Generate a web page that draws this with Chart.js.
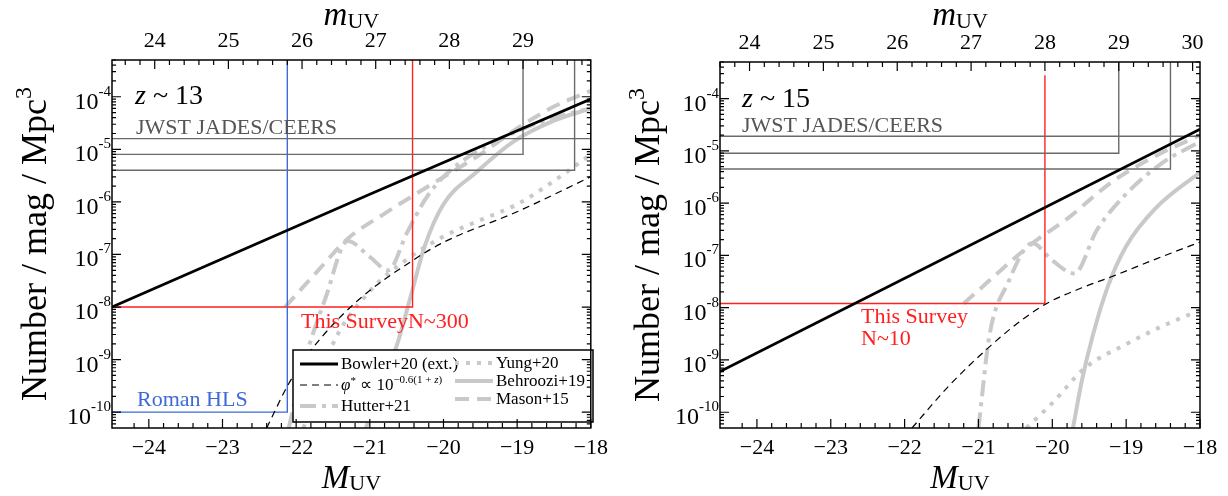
<!DOCTYPE html>
<html lang="en">
<head>
<meta charset="UTF-8">
<title>UV luminosity function at z~13 and z~15</title>
<script src="https://cdn.jsdelivr.net/npm/chart.js"></script>
<style>
  body { margin: 0; background: #fff; width: 1228px; height: 496px; overflow: hidden; }
  .panel { position: absolute; top: 0; }
  #p13 { left: 0; }
  #p15 { left: 615px; }
</style>
</head>
<body>
<div class="panel" id="p13"><canvas id="c13" width="615" height="496"></canvas></div>
<div class="panel" id="p15"><canvas id="c15" width="613" height="496"></canvas></div>
<script>
// ---- axes / ticks ----
const M_MIN = -24.5, M_MAX = -18;
const PHI_MIN = 5e-11, PHI_MAX = 5e-4;
const M_TICKS = [-24, -23, -22, -21, -20, -19, -18];
const PHI_TICK_EXP = [-10, -9, -8, -7, -6, -5, -4];
const MAG_TICKS_13 = [24, 25, 26, 27, 28, 29];
const MAG_TICKS_15 = [24, 25, 26, 27, 28, 29, 30];
const MAG_OFFSET_13 = 47.92;   // m_UV - M_UV
const MAG_OFFSET_15 = 48.1;

// ---- z ~ 13 ----
const bowler13_M   = [-24.5, -21.0, -18.0];
const bowler13_phi = [1e-8, 1.4e-6, 9e-5];
const phiStar13_M   = [-22.4, -22.1, -21.8, -21.2, -20.4, -20.0, -19.0, -18.0];
const phiStar13_phi = [5e-11, 3.5e-10, 1.5e-9, 1.2e-8, 8e-8, 1.7e-7, 6.5e-7, 3e-6];
const hutter13_M   = [-22.1, -21.9, -21.6, -21.3, -21.0, -20.75, -20.5, -20.25, -20.0, -19.5, -19.0, -18.5, -18.0];
const hutter13_phi = [5e-11, 8e-10, 1.5e-8, 1.8e-7, 9e-8, 5e-8, 2.5e-7, 1.1e-6, 3e-6, 1e-5, 2.2e-5, 4e-5, 6e-5];
const yung13_M   = [-21.9, -21.5, -21.0, -20.5, -20.0, -19.5, -19.0, -18.5, -18.0];
const yung13_phi = [5e-11, 2e-9, 2e-8, 8e-8, 2.2e-7, 4.5e-7, 9e-7, 2.5e-6, 8e-6];
const behroozi13_M   = [-21.05, -20.85, -20.65, -20.45, -20.25, -20.0, -19.55, -19.05, -18.5, -18.0];
const behroozi13_phi = [5e-11, 4e-10, 1.6e-9, 1.5e-8, 1.5e-7, 9e-7, 3.7e-6, 1.4e-5, 3.5e-5, 6e-5];
const mason13_M   = [-22.15, -21.7, -21.3, -20.8, -20.2, -19.5, -19.0, -18.5, -18.0];
const mason13_phi = [1e-8, 5e-8, 2e-7, 6e-7, 2e-6, 8e-6, 2.5e-5, 6.5e-5, 1.3e-4];
// survey limits z~13
const jwstA13_M = [-24.5, -18.0],           jwstA13_phi = [1.6e-5, 1.6e-5];
const jwstB13_M = [-24.5, -18.92, -18.92],  jwstB13_phi = [8e-6, 8e-6, 5e-4];
const jwstC13_M = [-24.5, -18.22, -18.22],  jwstC13_phi = [4e-6, 4e-6, 5e-4];
const survey13_M = [-24.5, -20.42, -20.42], survey13_phi = [1e-8, 1e-8, 5e-4];
const roman13_M = [-24.5, -22.12, -22.12],  roman13_phi = [1e-10, 1e-10, 5e-4];

// ---- z ~ 15 ----
const bowler15_M   = [-24.5, -18.0];
const bowler15_phi = [6e-10, 2.6e-5];
const phiStar15_M   = [-21.9, -21.4, -20.83, -20.4, -20.05, -19.6, -19.2, -18.6, -18.0];
const phiStar15_phi = [5e-11, 3.2e-10, 1.9e-9, 6e-9, 1.26e-8, 2.4e-8, 3.9e-8, 8.5e-8, 1.8e-7];
const hutter15_M   = [-21.0, -20.85, -20.6, -20.27, -20.0, -19.7, -19.4, -19.0, -18.5, -18.0];
const hutter15_phi = [5e-11, 3e-9, 3e-8, 1.7e-7, 8e-8, 4.5e-8, 3e-7, 1.5e-6, 6e-6, 1.5e-5];
const yung15_M   = [-20.35, -20.0, -19.56, -19.0, -18.5, -18.0];
const yung15_phi = [5e-11, 1.5e-10, 7e-10, 2e-9, 4.5e-9, 9e-9];
const behroozi15_M   = [-19.72, -19.6, -19.45, -19.25, -19.0, -18.6, -18.0];
const behroozi15_phi = [5e-11, 4e-10, 3e-9, 2.5e-8, 1.5e-7, 8e-7, 3.9e-6];
const mason15_M   = [-21.2, -20.27, -19.8, -19.2, -18.6, -18.0];
const mason15_phi = [1.2e-8, 1.7e-7, 5e-7, 2.5e-6, 8e-6, 2e-5];
const jwstA15_M = [-24.5, -18.0],           jwstA15_phi = [1.9e-5, 1.9e-5];
const jwstB15_M = [-24.5, -19.1, -19.1],    jwstB15_phi = [9e-6, 9e-6, 5e-4];
const jwstC15_M = [-24.5, -18.4, -18.4],    jwstC15_phi = [4.5e-6, 4.5e-6, 5e-4];
const survey15_M = [-24.5, -20.1, -20.1],   survey15_phi = [1.2e-8, 1.2e-8, 2.8e-4];

const FONT = "'Liberation Serif', 'Times New Roman', serif";
const GRAY = '#c9c9c9';
const RED = '#ff2020';
const BLUE = '#3d6ad8';
const JWST = '#6a6a6a';

const STYLE = {
  bowler:   { borderColor: '#000', borderWidth: 2.8 },
  phiStar:  { borderColor: '#000', borderWidth: 1.2, borderDash: [7, 5] },
  hutter:   { borderColor: GRAY, borderWidth: 4, borderDash: [16, 6, 4, 6] },
  yung:     { borderColor: GRAY, borderWidth: 4, borderDash: [4, 7] },
  behroozi: { borderColor: GRAY, borderWidth: 4 },
  mason:    { borderColor: GRAY, borderWidth: 4, borderDash: [14, 8] },
  jwst:     { borderColor: JWST, borderWidth: 1.4 },
  survey:   { borderColor: RED, borderWidth: 1.4 },
  roman:    { borderColor: BLUE, borderWidth: 1.4 }
};

function pts(ms, phis) { return ms.map((m, i) => ({ x: m, y: phis[i] })); }

function ds(label, ms, phis, style, smooth) {
  return Object.assign({
    label: label, data: pts(ms, phis),
    pointRadius: 0, fill: false, borderCapStyle: 'butt',
    tension: smooth ? 0.4 : 0,
    cubicInterpolationMode: smooth ? 'monotone' : 'default'
  }, style);
}

function fmtM(v) { return v < 0 ? '\u2212' + Math.abs(v) : String(v); }

// draws a run of text pieces: [text, size, italic, dy]
function rich(ctx, x, y, segs, align) {
  const fontOf = s => (s[2] ? 'italic ' : '') + s[1] + 'px ' + FONT;
  let w = 0;
  segs.forEach(s => { ctx.font = fontOf(s); w += ctx.measureText(s[0]).width; });
  let cx = align === 'center' ? x - w / 2 : align === 'right' ? x - w : x;
  ctx.textAlign = 'left';
  segs.forEach(s => {
    ctx.font = fontOf(s);
    ctx.fillText(s[0], cx, y + (s[3] || 0));
    cx += ctx.measureText(s[0]).width;
  });
  return w;
}

function decor(P) {
  return {
    id: 'decor',
    afterDatasetsDraw(chart) {
      const { ctx, chartArea: a, scales } = chart;
      ctx.save();
      ctx.textBaseline = 'alphabetic';

      // legend box (z~13 only)
      if (P.legend) {
        const L = P.legend;
        const bx = a.left + L.dx, by = a.top + L.dy;
        ctx.fillStyle = '#fff';
        ctx.fillRect(bx, by, L.w, L.h);
        ctx.strokeStyle = '#000'; ctx.lineWidth = 1.5; ctx.setLineDash([]);
        ctx.strokeRect(bx, by, L.w, L.h);
        L.items.forEach(it => {
          const d = chart.data.datasets.find(q => q.label === it.label);
          const x0 = bx + it.x, y0 = by + it.y;
          ctx.strokeStyle = d.borderColor; ctx.lineWidth = d.borderWidth;
          ctx.setLineDash(d.borderDash || []);
          ctx.beginPath(); ctx.moveTo(x0, y0); ctx.lineTo(x0 + 38, y0); ctx.stroke();
          ctx.setLineDash([]);
          ctx.fillStyle = '#000';
          rich(ctx, x0 + 41, y0 + 5, it.text);
        });
      }

      // frame
      ctx.setLineDash([]);
      ctx.strokeStyle = '#000'; ctx.lineWidth = 1.5;
      ctx.strokeRect(a.left, a.top, a.right - a.left, a.bottom - a.top);

      // inward ticks
      ctx.lineWidth = 1.2;
      ctx.beginPath();
      for (let i = Math.round(M_MIN * 5) + 1; i <= Math.round(M_MAX * 5); i++) {
        const v = i / 5, px = scales.x.getPixelForValue(v), len = i % 5 === 0 ? 9 : 5;
        ctx.moveTo(px, a.bottom); ctx.lineTo(px, a.bottom - len);
      }
      const t = scales.xTop;
      for (let i = Math.ceil(t.min * 5); i <= Math.floor(t.max * 5); i++) {
        const px = t.getPixelForValue(i / 5), len = i % 5 === 0 ? 9 : 5;
        ctx.moveTo(px, a.top); ctx.lineTo(px, a.top + len);
      }
      for (let e = -11; e <= -4; e++) {
        for (let k = 1; k <= 9; k++) {
          const v = k * Math.pow(10, e);
          if (v < PHI_MIN || v > PHI_MAX) continue;
          const py = scales.y.getPixelForValue(v), len = k === 1 ? 9 : 4;
          ctx.moveTo(a.left, py); ctx.lineTo(a.left + len, py);
          ctx.moveTo(a.right, py); ctx.lineTo(a.right - len, py);
        }
      }
      ctx.stroke();

      // y tick labels with exponents
      ctx.fillStyle = '#000';
      PHI_TICK_EXP.forEach(e => {
        const py = scales.y.getPixelForValue(Math.pow(10, e));
        ctx.font = '15px ' + FONT;
        const sup = '-' + Math.abs(e);
        const sw = ctx.measureText(sup).width;
        ctx.textAlign = 'right';
        ctx.fillText(sup, a.left - 1, py - 1);
        ctx.font = '24px ' + FONT;
        ctx.fillText('10', a.left - 1 - sw, py + 12);
      });

      // axis titles
      const cx = (a.left + a.right) / 2;
      rich(ctx, cx, 488, [['M', 33, true], ['UV', 22, false, 2]], 'center');
      rich(ctx, cx, 25, [['m', 33, true], ['UV', 22, false, 3]], 'center');
      ctx.save();
      ctx.translate(P.yTitleX, (a.top + a.bottom) / 2);
      ctx.rotate(-Math.PI / 2);
      rich(ctx, 0, 0, [['Number / mag / Mpc', 36], ['3', 24, false, -15]], 'center');
      ctx.restore();

      // annotations
      P.notes.forEach(n => {
        ctx.fillStyle = n.color;
        rich(ctx, a.left + n.dx, n.y, n.segs);
      });
      ctx.restore();
    }
  };
}

function makePanel(id, P) {
  const a = P.area, W = P.width, H = 496;
  const datasets = [
    ds('Bowler+20 (ext.)', P.d.bowler[0], P.d.bowler[1], STYLE.bowler, false),
    ds('phiStar', P.d.phiStar[0], P.d.phiStar[1], STYLE.phiStar, true),
    ds('JWST A', P.d.jwstA[0], P.d.jwstA[1], STYLE.jwst, false),
    ds('JWST B', P.d.jwstB[0], P.d.jwstB[1], STYLE.jwst, false),
    ds('JWST C', P.d.jwstC[0], P.d.jwstC[1], STYLE.jwst, false),
    ds('This Survey', P.d.survey[0], P.d.survey[1], STYLE.survey, false),
    ds('Hutter+21', P.d.hutter[0], P.d.hutter[1], STYLE.hutter, true),
    ds('Yung+20', P.d.yung[0], P.d.yung[1], STYLE.yung, true),
    ds('Behroozi+19', P.d.behroozi[0], P.d.behroozi[1], STYLE.behroozi, true),
    ds('Mason+15', P.d.mason[0], P.d.mason[1], STYLE.mason, true)
  ];
  if (P.d.roman) datasets.splice(5, 0, ds('Roman HLS', P.d.roman[0], P.d.roman[1], STYLE.roman, false));

  const tickFont = { family: FONT, size: 22 };
  const noGrid = { display: false, drawTicks: false };
  new Chart(document.getElementById(id), {
    type: 'line',
    data: { datasets: datasets },
    options: {
      responsive: false, animation: false, devicePixelRatio: 1,
      layout: { padding: 0 },
      plugins: { legend: { display: false }, tooltip: { enabled: false } },
      scales: {
        x: {
          type: 'linear', position: 'bottom', min: M_MIN, max: M_MAX,
          afterBuildTicks: s => { s.ticks = M_TICKS.map(v => ({ value: v })); },
          ticks: { callback: fmtM, font: tickFont, color: '#000', padding: 7, maxRotation: 0, autoSkip: false },
          grid: noGrid, border: { display: false },
          afterFit: s => { s.height = H - a.bottom; }
        },
        xTop: {
          type: 'linear', position: 'top', min: M_MIN + P.offset, max: M_MAX + P.offset,
          afterBuildTicks: s => { s.ticks = P.magTicks.map(v => ({ value: v })); },
          ticks: { font: tickFont, color: '#000', padding: 6, maxRotation: 0, autoSkip: false },
          grid: noGrid, border: { display: false },
          afterFit: s => { s.height = a.top; }
        },
        y: {
          type: 'logarithmic', position: 'left', min: PHI_MIN, max: PHI_MAX,
          ticks: { display: false }, grid: noGrid, border: { display: false },
          afterFit: s => { s.width = a.left; }
        },
        yR: {
          type: 'logarithmic', position: 'right', min: PHI_MIN, max: PHI_MAX,
          ticks: { display: false }, grid: noGrid, border: { display: false },
          afterFit: s => { s.width = W - a.right; }
        }
      }
    },
    plugins: [decor(P)]
  });
}

makePanel('c13', {
  width: 615, area: { left: 112, top: 60, right: 597, bottom: 428 },
  offset: MAG_OFFSET_13, magTicks: MAG_TICKS_13, yTitleX: 46,
  d: {
    bowler: [bowler13_M, bowler13_phi], phiStar: [phiStar13_M, phiStar13_phi],
    hutter: [hutter13_M, hutter13_phi], yung: [yung13_M, yung13_phi],
    behroozi: [behroozi13_M, behroozi13_phi], mason: [mason13_M, mason13_phi],
    jwstA: [jwstA13_M, jwstA13_phi], jwstB: [jwstB13_M, jwstB13_phi], jwstC: [jwstC13_M, jwstC13_phi],
    survey: [survey13_M, survey13_phi], roman: [roman13_M, roman13_phi]
  },
  notes: [
    { dx: 23, y: 104, color: '#000', segs: [['z', 28, true], [' ~ 13', 28]] },
    { dx: 24, y: 134, color: '#555', segs: [['JWST JADES/CEERS', 22]] },
    { dx: 189, y: 328, color: RED, segs: [['This SurveyN~300', 22]] },
    { dx: 25, y: 406, color: BLUE, segs: [['Roman HLS', 22]] }
  ],
  legend: {
    dx: 181, dy: 290, w: 300, h: 72,
    items: [
      { label: 'Bowler+20 (ext.)', x: 7, y: 14, text: [['Bowler+20 (ext.)', 17]] },
      { label: 'phiStar', x: 7, y: 35, text: [['\u03C6', 17, true], ['*', 11, false, -6], [' \u221D 10', 17], ['\u22120.6(1 + ', 11, false, -7], ['z', 11, true, -7], [')', 11, false, -7]] },
      { label: 'Hutter+21', x: 7, y: 56, text: [['Hutter+21', 17]] },
      { label: 'Yung+20', x: 162, y: 13, text: [['Yung+20', 17]] },
      { label: 'Behroozi+19', x: 162, y: 31, text: [['Behroozi+19', 17]] },
      { label: 'Mason+15', x: 162, y: 49, text: [['Mason+15', 17]] }
    ]
  }
});

makePanel('c15', {
  width: 613, area: { left: 105, top: 62, right: 585, bottom: 428 },
  offset: MAG_OFFSET_15, magTicks: MAG_TICKS_15, yTitleX: 44,
  d: {
    bowler: [bowler15_M, bowler15_phi], phiStar: [phiStar15_M, phiStar15_phi],
    hutter: [hutter15_M, hutter15_phi], yung: [yung15_M, yung15_phi],
    behroozi: [behroozi15_M, behroozi15_phi], mason: [mason15_M, mason15_phi],
    jwstA: [jwstA15_M, jwstA15_phi], jwstB: [jwstB15_M, jwstB15_phi], jwstC: [jwstC15_M, jwstC15_phi],
    survey: [survey15_M, survey15_phi]
  },
  notes: [
    { dx: 22, y: 107, color: '#000', segs: [['z', 28, true], [' ~ 15', 28]] },
    { dx: 22, y: 132, color: '#555', segs: [['JWST JADES/CEERS', 22]] },
    { dx: 141, y: 323, color: RED, segs: [['This Survey', 22]] },
    { dx: 141, y: 345, color: RED, segs: [['N~10', 22]] }
  ]
});
</script>
</body>
</html>
